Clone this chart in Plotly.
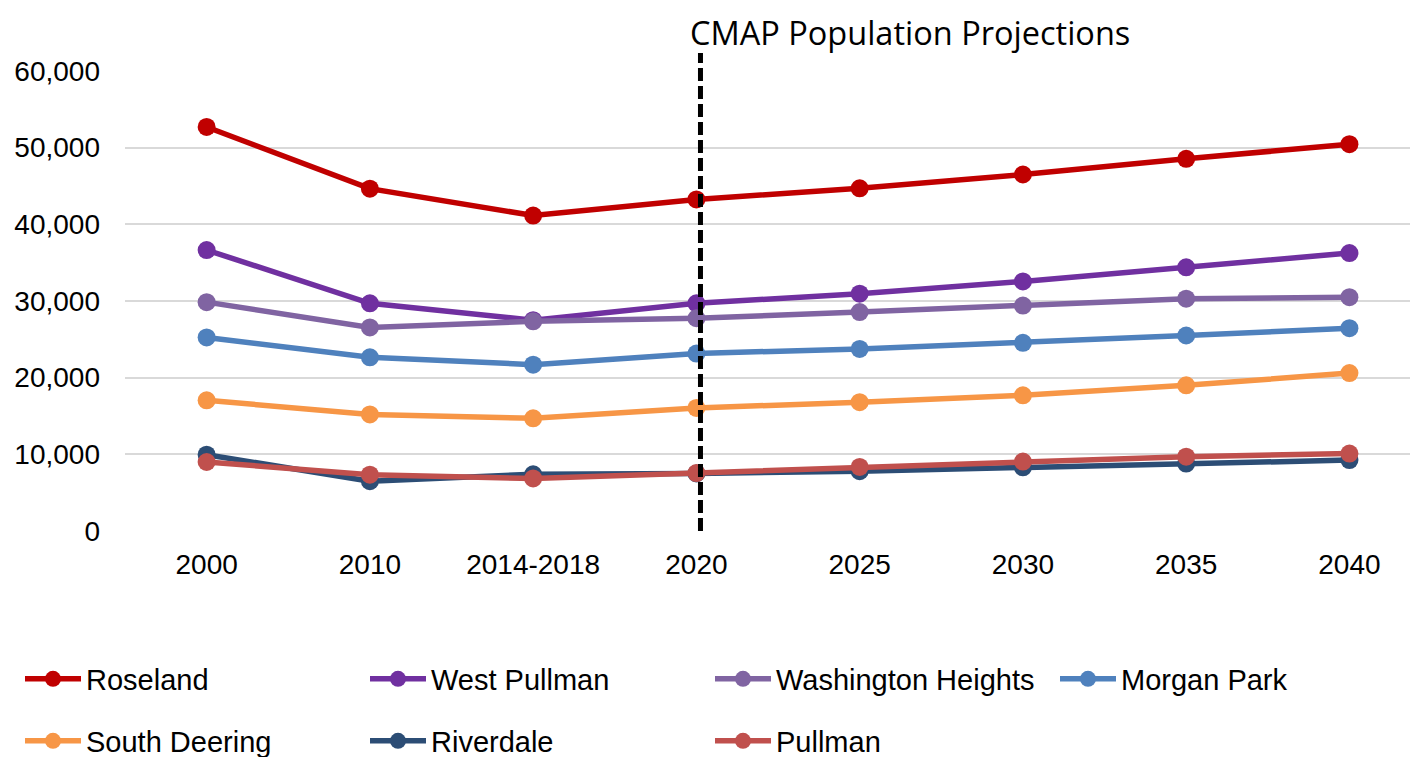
import plotly.graph_objects as go

categories = ["2000", "2010", "2014-2018", "2020", "2025", "2030", "2035", "2040"]

roseland = [52700, 44650, 41150, 43250, 44700, 46500, 48550, 50450]
west_pullman = [36650, 29700, 27500, 29700, 30950, 32550, 34400, 36250]
washington_heights = [29850, 26550, 27350, 27750, 28550, 29400, 30300, 30500]
morgan_park = [25250, 22650, 21700, 23150, 23750, 24550, 25500, 26450]
south_deering = [17050, 15200, 14700, 16050, 16800, 17700, 19000, 20600]
riverdale = [9950, 6500, 7400, 7500, 7800, 8300, 8800, 9250]
pullman = [9000, 7350, 6850, 7550, 8350, 9050, 9700, 10100]

series_names = ["Roseland", "West Pullman", "Washington Heights", "Morgan Park",
                "South Deering", "Riverdale", "Pullman"]
series_values = [roseland, west_pullman, washington_heights, morgan_park,
                 south_deering, riverdale, pullman]
series_colors = ["#C00000", "#7030A0", "#8064A2", "#4F81BD",
                 "#F79646", "#2C4D75", "#C0504D"]

y_ticks = [0, 10000, 20000, 30000, 40000, 50000, 60000]
y_tick_labels = ["0", "10,000", "20,000", "30,000", "40,000", "50,000", "60,000"]

title_text = "CMAP Population Projections"
divider_category = "2020"

# page body adds an 8px offset; figure coordinates are reference minus 8
OFF = 8
W, H = 1410, 749
PL, PR, PT = 125 - OFF, 0, 71 - OFF
PB = H - (531 - OFF)
plot_h = H - PT - PB
plot_w = W - PL - PR

fig = go.Figure()
legend_names = ["legend"] + [f"legend{k}" for k in range(2, 8)]
for i, (name, vals, col) in enumerate(zip(series_names, series_values, series_colors)):
    fig.add_trace(go.Scatter(
        x=categories, y=vals, name=name, mode="lines+markers",
        line=dict(color=col, width=5.5),
        marker=dict(color=col, size=18),
        legend=legend_names[i],
    ))

div_x = categories.index(divider_category) + 0.025
fig.add_shape(type="line", xref="x", yref="paper", x0=div_x, x1=div_x,
              y0=0, y1=(531 - 53) / plot_h,
              line=dict(color="black", width=5, dash="13px,5px"), layer="above")

# title: top of its box at the top of the figure
fig.add_annotation(text=title_text, xref="paper", yref="paper",
                   x=(690 - 2 - 125) / plot_w, y=1 + PT / plot_h,
                   xanchor="left", yanchor="top",
                   showarrow=False, font=dict(family="Open Sans", size=32.5, color="black"))

# legend grid: 4 columns, 2 rows (reference pixel positions)
col_x = [26, 371, 716, 1061]
row_y = [680, 742]
legend_layout = {}
for i in range(len(series_names)):
    r, c = divmod(i, 4)
    legend_layout[legend_names[i]] = dict(
        orientation="h", xref="container", yref="container",
        xanchor="left", yanchor="middle",
        x=(col_x[c] - OFF - 6) / W, y=1 - (row_y[r] - OFF - 1) / H,
        font=dict(family="Liberation Sans", size=29, color="black"),
        bgcolor="rgba(0,0,0,0)", itemwidth=56, tracegroupgap=0,
    )

fig.update_layout(
    width=W, height=H,
    margin=dict(l=PL, r=PR, t=PT, b=PB, autoexpand=False),
    paper_bgcolor="white", plot_bgcolor="white",
    font=dict(family="Liberation Sans", size=28, color="black"),
    showlegend=True,
    xaxis=dict(type="category", range=[-0.5, 7.42], showgrid=False, zeroline=False,
               showline=False, ticks="", ticklabelstandoff=14,
               tickfont=dict(family="Liberation Sans", size=28, color="black")),
    yaxis=dict(range=[0, 60000], tickvals=y_ticks, ticktext=y_tick_labels,
               showgrid=True, gridcolor="#D9D9D9", gridwidth=2, zeroline=False,
               showline=False, ticks="", ticklabelstandoff=24,
               tickfont=dict(family="Liberation Sans", size=28, color="black")),
    **legend_layout,
)

fig.write_html("out.html")
